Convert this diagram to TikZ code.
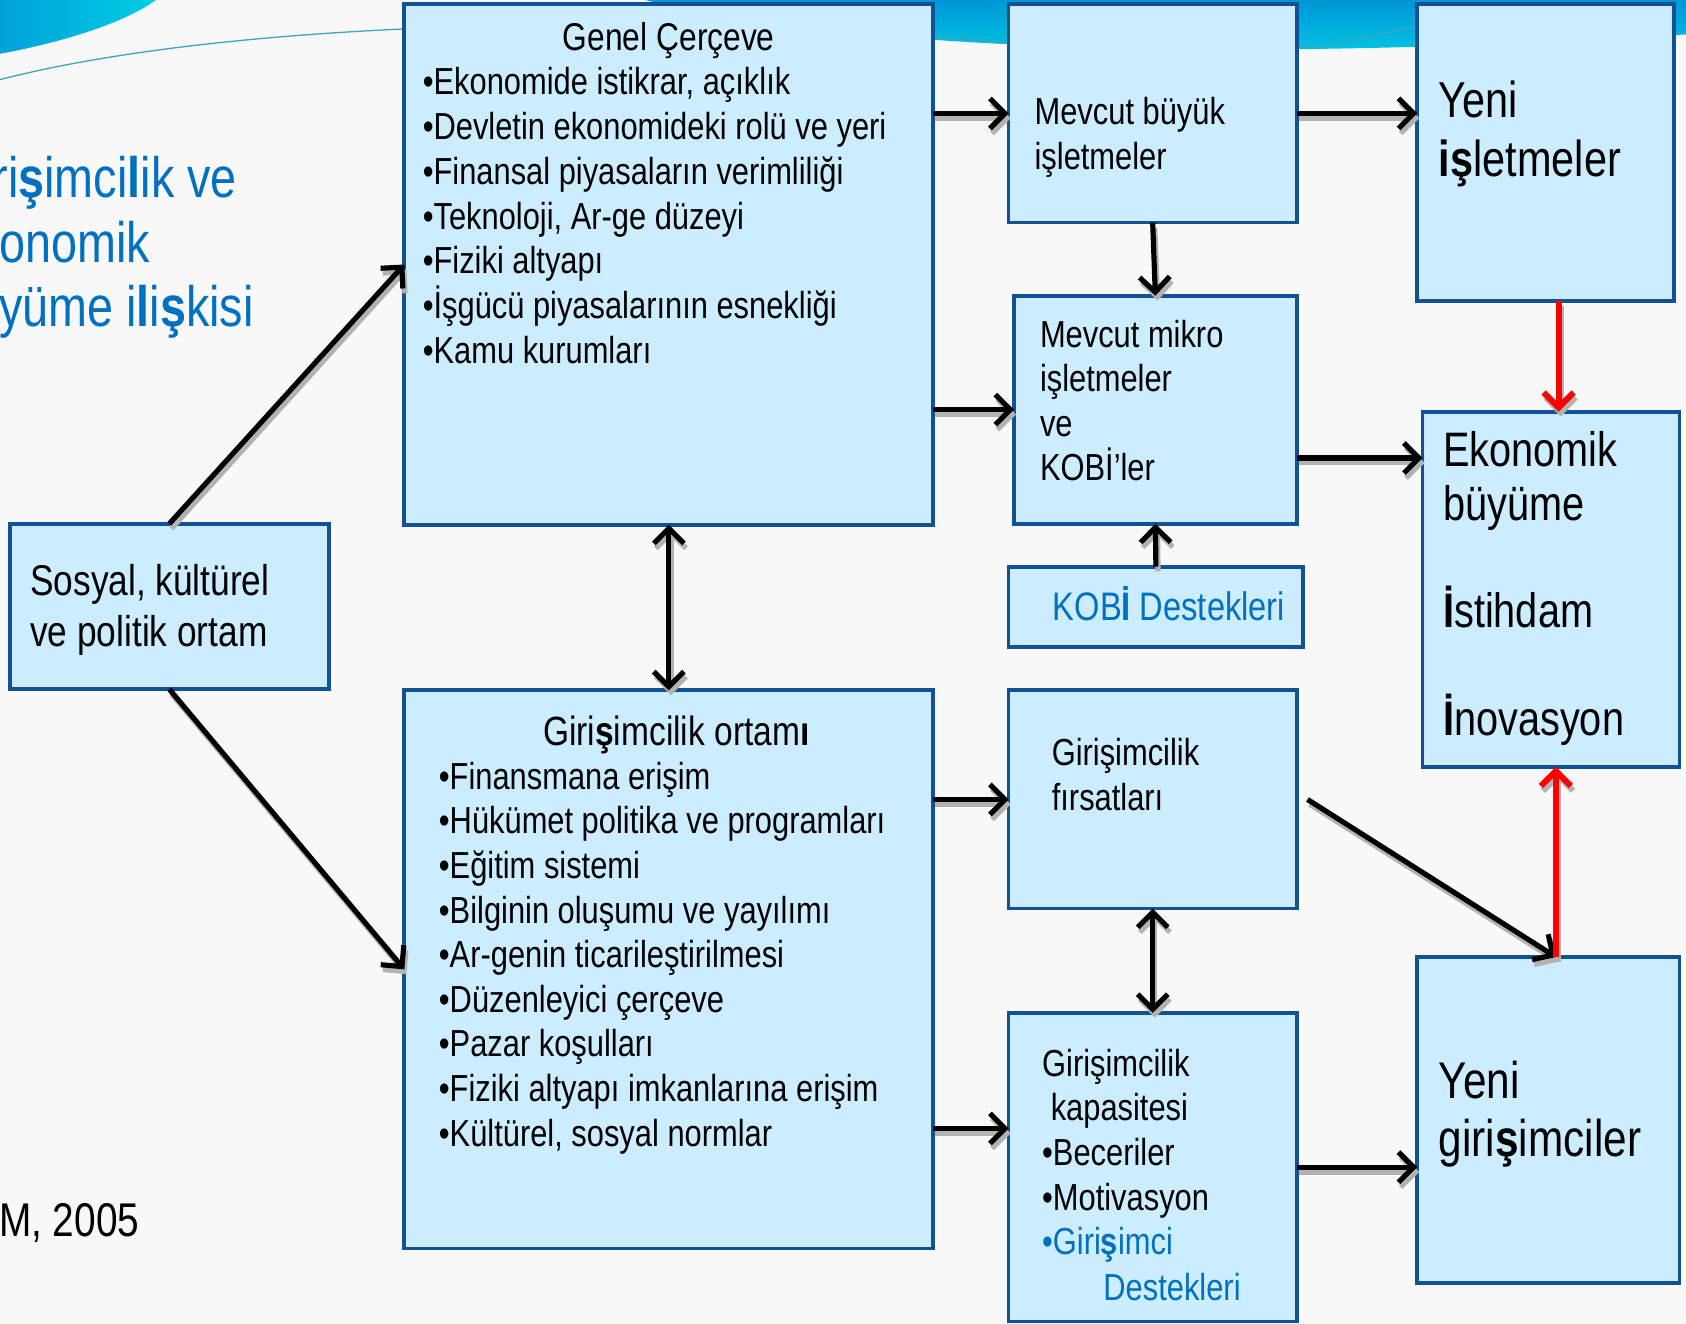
\documentclass[tikz,border=0pt]{standalone}
\usepackage{fontspec}
\setmainfont{Liberation Sans}[FakeStretch=0.82]
\usetikzlibrary{arrows.meta}

\definecolor{kutumavi}{RGB}{204,236,255}
\definecolor{kenarmavi}{RGB}{18,82,148}
\definecolor{yazimavi}{RGB}{0,112,192}
\definecolor{zemin}{RGB}{248,248,248}
\definecolor{dalgakoyu}{RGB}{0,150,215}
\definecolor{dalgaacik}{RGB}{0,205,228}
\definecolor{dalgacizgi}{RGB}{60,165,190}

\tikzset{
 kutu/.style={draw=kenarmavi, fill=kutumavi, line width=3.5pt, anchor=north west, inner sep=0pt, outer sep=0pt},
 yazi/.style={anchor=base west, inner sep=0pt, font=\fontsize{35}{42}\selectfont},
 ucok/.tip={Straight Barb[length=14pt,width=28pt]},
 ok/.style={line width=4.8pt, -{ucok}},
 ciftok/.style={ok, {ucok}-{ucok}},
 kalinok/.style={ok, line width=5.6pt},
}

\begin{document}
\begin{tikzpicture}[x=1pt, y=-1pt]
\useasboundingbox (0,0) rectangle (1568,1231);
\clip (0,0) rectangle (1568,1231);
\fill[zemin] (0,0) rectangle (1568,1231);
% dalgalar
\shade[left color=dalgakoyu!80!dalgaacik, right color=dalgaacik] (0,0) -- (145,0) .. controls (115,22) and (55,40) .. (0,50) -- cycle;
\shade[top color=dalgakoyu, bottom color=dalgaacik] (600,0) .. controls (800,48) and (1150,58) .. (1568,32) -- (1568,0) -- cycle;
\draw[dalgacizgi, line width=1.2pt] (0,74) .. controls (250,10) and (700,15) .. (940,40);
\draw[dalgacizgi, line width=1.2pt] (1206,44) .. controls (1260,38) and (1290,30) .. (1318,24);

% baslik
\node[yazi, text=yazimavi, font=\fontsize{53}{60}\selectfont] (baslik1) at (-7,184) {ri\textbf{ş}imci\textbf{l}ik ve};
\node[yazi, text=yazimavi, font=\fontsize{53}{60}\selectfont] (baslik2) at (-1,244) {onomik};
\node[yazi, text=yazimavi, font=\fontsize{53}{60}\selectfont] (baslik3) at (-1,304) {yüme i\textbf{l}i\textbf{ş}kisi};
\node[yazi, font=\fontsize{44}{50}\selectfont] (kaynak) at (-1,1150) {M, 2005};

% kutular
\node[kutu, minimum width=297pt, minimum height=154pt] (sosyal) at (9,487) {};
\node[kutu, minimum width=492pt, minimum height=484pt] (genel) at (376,4) {};
\node[kutu, minimum width=492pt, minimum height=519pt] (ortam) at (376,642) {};
\node[kutu, minimum width=268pt, minimum height=203pt] (buyuk) at (938,4) {};
\node[kutu, minimum width=263pt, minimum height=212pt] (mikro) at (943,275) {};
\node[kutu, minimum width=274pt, minimum height=75pt] (kobides) at (938,527) {};
\node[kutu, minimum width=239pt, minimum height=276pt] (yeniis) at (1318,4) {};
\node[kutu, minimum width=239pt, minimum height=330pt] (ekon) at (1323,383) {};
\node[kutu, minimum width=268pt, minimum height=203pt] (firsat) at (938,642) {};
\node[kutu, minimum width=268pt, minimum height=287pt] (kapas) at (938,942) {};
\node[kutu, minimum width=244pt, minimum height=303pt] (yenigir) at (1318,890) {};

% kutu yazilari
\foreach \y/\t [count=\i] in {554/{Sosyal, kültürel}, 601/ve politik ortam}
 \node[yazi, font=\fontsize{40}{47}\selectfont] (sosyal-\i) at (28,\y) {\t};

\node[yazi, anchor=base, font=\fontsize{36}{42}\selectfont] (genelbaslik) at (622,47) {Genel Çerçeve};
\foreach \t [count=\i from 0] in {{Ekonomide istikrar, açıklık}, Devletin ekonomideki rolü ve yeri,
  Finansal piyasaların verimliliği, {Teknoloji, Ar-ge düzeyi}, Fiziki altyapı,
  İşgücü piyasalarının esnekliği, Kamu kurumları}
 \node[yazi] (genel-\i) at (393,{88+41.7*\i}) {•\t};

\node[yazi, anchor=base, font=\fontsize{38}{42}\selectfont] (ortambaslik) at (629,693) {Giri\textbf{ş}imcilik ortam\textbf{ı}};
\foreach \t [count=\i from 0] in {Finansmana erişim, Hükümet politika ve programları, Eğitim sistemi,
  Bilginin oluşumu ve yayılımı, Ar-genin ticarileştirilmesi, Düzenleyici çerçeve,
  Pazar koşulları, Fiziki altyapı imkanlarına erişim, {Kültürel, sosyal normlar}}
 \node[yazi] (ortam-\i) at (408,{734+41.5*\i}) {•\t};

\foreach \y/\t [count=\i] in {116/Mevcut büyük, 158/işletmeler}
 \node[yazi] (buyuk-\i) at (962,\y) {\t};
\foreach \y/\t [count=\i] in {323/Mevcut mikro, 364/işletmeler, 406/ve, 447/KOBİ’ler}
 \node[yazi] (mikro-\i) at (967,\y) {\t};
\node[yazi, text=yazimavi, font=\fontsize{37}{42}\selectfont] (kobides-1) at (979,577) {KOB\textbf{İ} Destekleri};
\foreach \y/\t [count=\i] in {109/Yeni, 164/\textbf{iş}letmeler}
 \node[yazi, font=\fontsize{47}{55}\selectfont] (yeniis-\i) at (1338,\y) {\t};
\foreach \y/\t [count=\i] in {434/Ekonomik, 484/büyüme, 584/\textbf{İ}stihdam, 684/\textbf{İ}novasyon}
 \node[yazi, font=\fontsize{45}{50}\selectfont] (ekon-\i) at (1342,\y) {\t};
\foreach \y/\t [count=\i] in {712/Girişimcilik, 754/fırsatları}
 \node[yazi] (firsat-\i) at (978,\y) {\t};
\node[yazi] (kapas-1) at (969,1001) {Girişimcilik};
\node[yazi] (kapas-2) at (977,1042) {kapasitesi};
\node[yazi] (kapas-3) at (969,1084) {•Beceriler};
\node[yazi] (kapas-4) at (969,1126) {•Motivasyon};
\node[yazi, text=yazimavi] (kapas-5) at (969,1167) {•Giri\textbf{ş}imci};
\node[yazi, text=yazimavi] (kapas-6) at (1026,1209) {Destekleri};
\foreach \y/\t [count=\i] in {1022/Yeni, 1076/giri\textbf{ş}imciler}
 \node[yazi, font=\fontsize{48}{55}\selectfont] (yenigir-\i) at (1338,\y) {\t};

% oklar: once golge, sonra kendisi
\coordinate (mikrocikis) at ([yshift=-45pt]mikro.east);
\coordinate (kapasgiris) at ([yshift=36pt]kapas.west);
\coordinate (firsatcikis) at ([xshift=10pt]firsat.east);
\foreach \siyah/\kirmizi/\dx/\dy in {gray!60/gray!60/2/-4.5, black/red/0/0} {
 \begin{scope}[transform canvas={shift={(\dx pt,\dy pt)}}]
 \draw[ok, \siyah] (sosyal.north) -- (genel.west);
 \draw[ok, \siyah] (sosyal.south) -- (ortam.west);
 \draw[ciftok, \siyah] (genel.south) -- (ortam.north);
 \draw[ok, \siyah] (genel.east |- buyuk.west) -- (buyuk.west);
 \draw[ok, \siyah] (genel.east |- mikro.west) -- (mikro.west);
 \draw[ok, \siyah] (buyuk.south) -- (mikro.north);
 \draw[ok, \siyah] (kobides.north) -- (mikro.south);
 \draw[ok, \siyah] (buyuk.east) -- (buyuk.east -| yeniis.west);
 \draw[ok, \siyah] (mikrocikis) -- (mikrocikis -| ekon.west);
 \draw[kalinok, \kirmizi] ([xshift=12pt]yeniis.south) -- ([xshift=12pt]yeniis.south |- ekon.north);
 \draw[ok, \siyah] (ortam.east |- firsat.west) -- (firsat.west);
 \draw[ok, \siyah] (ortam.east |- kapasgiris) -- (kapasgiris);
 \draw[ciftok, \siyah] (firsat.south) -- (kapas.north);
 \draw[ok, \siyah] (kapas.east) -- (kapas.east -| yenigir.west);
 \draw[ok, \siyah] (firsatcikis) -- ([xshift=7pt]yenigir.north);
 \draw[kalinok, \kirmizi] ([xshift=7pt]yenigir.north) -- ([xshift=7pt]yenigir.north |- ekon.south);
 \end{scope}
}
\end{tikzpicture}
\end{document}
